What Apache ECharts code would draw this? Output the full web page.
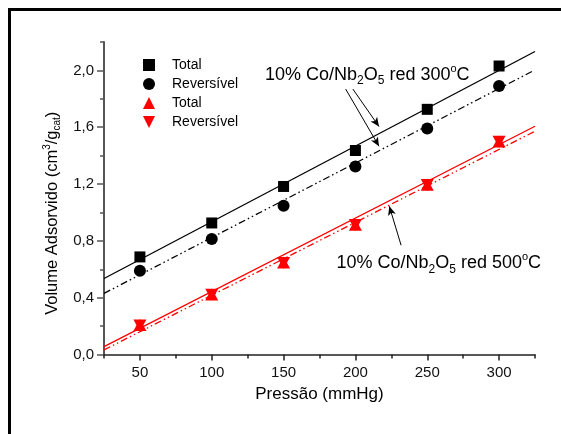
<!DOCTYPE html>
<html>
<head>
<meta charset="utf-8">
<script src="https://cdn.jsdelivr.net/npm/echarts@6/dist/echarts.min.js"></script>
<style>
html,body{margin:0;padding:0;background:#fff;}
#chart{width:561px;height:434px;}
</style>
</head>
<body>
<div id="chart"></div>
<script>
// ---- data ----
var pressures = [50, 100, 150, 200, 250, 300];
var total300 = [0.687, 0.926, 1.183, 1.436, 1.726, 2.031];
var rev300   = [0.589, 0.813, 1.048, 1.324, 1.591, 1.890];
var total500 = [0.207, 0.423, 0.647, 0.914, 1.195, 1.499];
var rev500   = [0.205, 0.420, 0.645, 0.912, 1.193, 1.497];

// fitted lines (end points)
var fitTotal300 = [[25, 0.535], [325, 2.133]];
var fitRev300   = [[25, 0.430], [323, 1.993]];
var fitTotal500 = [[25, 0.055], [325, 1.607]];
var fitRev500   = [[25, 0.032], [325, 1.572]];

// tick values
var xLabelTicks = [50, 100, 150, 200, 250, 300];
var xMinorTicks = [25, 75, 125, 175, 225, 275, 325];
var yLabelTicks = [0, 0.4, 0.8, 1.2, 1.6, 2.0];
var yMinorTicks = [0.2, 0.6, 1.0, 1.4, 1.8, 2.2];

// annotation arrows (data coordinates)
var arrows300 = [
  [[193.2, 1.869], [216.4, 1.466]],
  [[198.2, 1.869], [216.4, 1.605]]
];
var arrows500 = [
  [[231.8, 0.769], [223.6, 1.044]]
];

var FONT = "'Liberation Sans', Arial, Helvetica, sans-serif";
var downTri = 'path://M0,0 L10,0 L5,10 Z';

function pairs(xs, ys) { return xs.map(function (x, i) { return [x, ys[i]]; }); }
function arrowData(list) {
  return list.map(function (a) { return [{ coord: a[0] }, { coord: a[1] }]; });
}

var chart = echarts.init(document.getElementById('chart'), null, { renderer: 'canvas' });

var richTitle = {
  a:   { fontSize: 18, fontFamily: FONT, color: '#000', lineHeight: 24 },
  sub: { fontSize: 12, fontFamily: FONT, color: '#000', lineHeight: 11, verticalAlign: 'bottom' },
  sup: { fontSize: 11, fontFamily: FONT, color: '#000', lineHeight: 8, verticalAlign: 'top' }
};

var option = {
  animation: false,
  backgroundColor: '#fff',
  textStyle: { fontFamily: FONT },
  grid: { left: 104, right: 26, top: 42, bottom: 79.5, containLabel: false },
  legend: {
    orient: 'vertical',
    left: 138,
    top: 52,
    itemWidth: 12,
    itemHeight: 12,
    itemGap: 3,
    data: ['Total', 'Reversível', 'Total ', 'Reversível '],
    itemStyle: { opacity: 1 },
    textStyle: { fontSize: 14, fontFamily: FONT, color: '#000', lineHeight: 16, padding: [0, 0, 0, 12] },
    selectedMode: false
  },
  xAxis: [{
    type: 'value', min: 25, max: 325,
    name: 'Pressão (mmHg)', nameLocation: 'middle', nameGap: 31,
    nameTextStyle: { fontSize: 17, fontFamily: FONT, color: '#000' },
    axisLine: { show: true, onZero: false, lineStyle: { color: '#222', width: 1.5 } },
    axisTick: { show: true, inside: false, length: 6, customValues: xLabelTicks, lineStyle: { color: '#222', width: 1.5 } },
    axisLabel: { show: true, margin: 11, fontSize: 15, color: '#111', fontFamily: FONT, customValues: xLabelTicks },
    splitLine: { show: false }
  }, {
    type: 'value', min: 25, max: 325, position: 'bottom',
    axisLine: { show: false },
    axisTick: { show: true, inside: false, length: 4, customValues: xMinorTicks, lineStyle: { color: '#222', width: 1.5 } },
    axisLabel: { show: false },
    splitLine: { show: false }
  }],
  yAxis: [{
    type: 'value', min: 0, max: 2.2,
    name: '{a|Volume Adsorvido (cm}{sup|3}{a|/g}{sub|cat}{a|)}',
    nameLocation: 'middle', nameGap: 37, nameRotate: 90,
    nameTextStyle: {
      padding: [0, 30, 0, 0],
      rich: {
        a:   { fontSize: 16.5, fontFamily: FONT, color: '#000', lineHeight: 20 },
        sup: { fontSize: 10, fontFamily: FONT, color: '#000', lineHeight: 8, verticalAlign: 'top' },
        sub: { fontSize: 10, fontFamily: FONT, color: '#000', lineHeight: 9, verticalAlign: 'bottom' }
      }
    },
    axisLine: { show: true, onZero: false, lineStyle: { color: '#555', width: 2 } },
    axisTick: { show: true, inside: false, length: 7, customValues: yLabelTicks, lineStyle: { color: '#555', width: 1.5 } },
    axisLabel: {
      show: true, margin: 10, fontSize: 15, color: '#111', fontFamily: FONT, customValues: yLabelTicks,
      formatter: function (v) { return v.toFixed(1).replace('.', ','); }
    },
    splitLine: { show: false }
  }, {
    type: 'value', min: 0, max: 2.2, position: 'left',
    axisLine: { show: false },
    axisTick: { show: true, inside: false, length: 4, customValues: yMinorTicks, lineStyle: { color: '#555', width: 1.5 } },
    axisLabel: { show: false },
    splitLine: { show: false }
  }],
  graphic: [
    {
      type: 'rect', silent: true, z: -10,
      shape: { x: 9.5, y: 9.5, width: 700, height: 600 },
      style: { fill: 'none', stroke: '#000', lineWidth: 3 }
    },
    {
      type: 'text', silent: true, left: 265, top: 63,
      style: {
        text: '{a|10% Co/Nb}{sub|2}{a|O}{sub|5}{a| red 300}{sup|o}{a|C}',
        rich: richTitle
      }
    },
    {
      type: 'text', silent: true, left: 336.5, top: 251.5,
      style: {
        text: '{a|10% Co/Nb}{sub|2}{a|O}{sub|5}{a| red 500}{sup|o}{a|C}',
        rich: richTitle
      }
    }
  ],
  series: [
    { type: 'line', name: 'fitT300', data: fitTotal300, showSymbol: false, symbol: 'none', silent: true,
      lineStyle: { color: '#000', width: 1.3, type: 'solid' } },
    { type: 'line', name: 'fitR300', data: fitRev300, showSymbol: false, symbol: 'none', silent: true,
      lineStyle: { color: '#000', width: 1.3, type: [7, 3, 1.5, 3, 1.5, 3] } },
    { type: 'line', name: 'fitT500', data: fitTotal500, showSymbol: false, symbol: 'none', silent: true,
      lineStyle: { color: '#ff0000', width: 1.3, type: 'solid' } },
    { type: 'line', name: 'fitR500', data: fitRev500, showSymbol: false, symbol: 'none', silent: true,
      lineStyle: { color: '#ff0000', width: 1.3, type: [7, 3, 1.5, 3, 1.5, 3] } },
    { type: 'scatter', name: 'Total', data: pairs(pressures, total300), symbol: 'rect', symbolSize: 11,
      itemStyle: { color: '#000', opacity: 1 }, z: 5 },
    { type: 'scatter', name: 'Reversível', data: pairs(pressures, rev300), symbol: 'circle', symbolSize: 12,
      itemStyle: { color: '#000', opacity: 1 }, z: 5,
      markLine: {
        silent: true, symbol: ['none', 'arrow'], symbolSize: [6, 9],
        label: { show: false },
        lineStyle: { color: '#000', width: 1, type: 'solid' },
        data: arrowData(arrows300)
      } },
    { type: 'scatter', name: 'Total ', data: pairs(pressures, total500), symbol: 'triangle', symbolSize: [13, 12],
      itemStyle: { color: '#ff0000', opacity: 1 }, z: 5 },
    { type: 'scatter', name: 'Reversível ', data: pairs(pressures, rev500), symbol: downTri, symbolSize: [13, 12],
      itemStyle: { color: '#ff0000', opacity: 1 }, z: 5,
      markLine: {
        silent: true, symbol: ['none', 'arrow'], symbolSize: [6, 9],
        label: { show: false },
        lineStyle: { color: '#000', width: 1, type: 'solid' },
        data: arrowData(arrows500)
      } }
  ]
};

chart.setOption(option);
</script>
</body>
</html>
